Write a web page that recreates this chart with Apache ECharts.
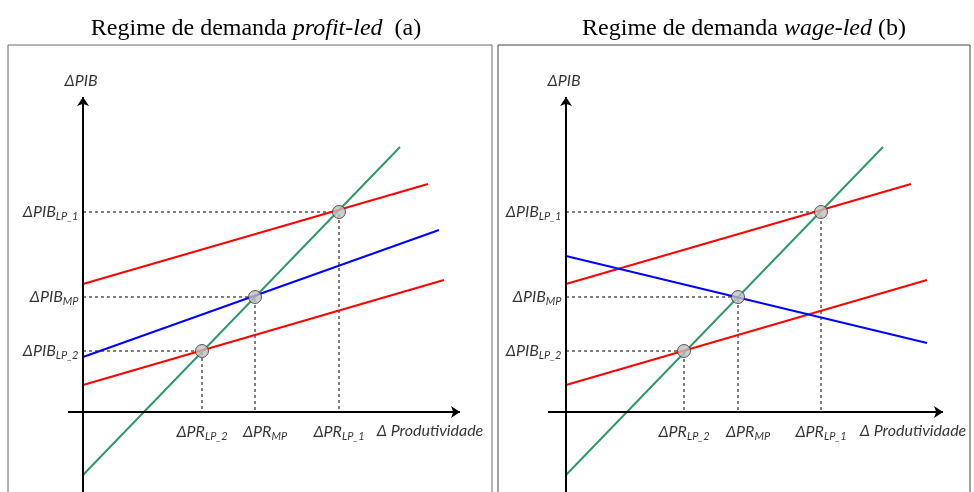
<!DOCTYPE html>
<html><head><meta charset="utf-8">
<script src="https://cdn.jsdelivr.net/npm/echarts@6/dist/echarts.min.js"></script>
<style>html,body{margin:0;padding:0;background:#fff}#c{width:974px;height:492px}</style>
</head><body><div id="c"></div>
<script>
// ---- data (model units) ----
const panelTitles = ['profit-led', 'wage-led'];
const panelLetters = ['(a)', '(b)'];
const prLine = [[0, -6.3], [31.7, 26.5]];
const bp1Line = [[0, 12.8], [34.5, 22.8]];
const bp2Line = [[0, 2.7], [36.1, 13.2]];
const drProfitLed = [[0, 5.5], [35.6, 18.2]];
const drWageLed = [[0, 15.6], [36.1, 6.9]];
const eqProfitLed = [[11.9, 6.1], [17.2, 11.5], [25.6, 20.0]];
const eqWageLed = [[11.8, 6.1], [17.2, 11.5], [25.5, 20.0]];
const eqSubscripts = ['LP_2', 'MP', 'LP_1'];
const xAxisExtentA = [-1.5, 37.7];
const xAxisExtentB = [-1.8, 37.7];
const yAxisExtent = [-8.5, 31.5];
const yAxisName = 'ΔPIB';
const xAxisName = 'Δ Produtividade';

const FONT = 'Lato';
const chart = echarts.init(document.getElementById('c'), null, {renderer: 'canvas'});

const rich = {
  m: {fontFamily: FONT, fontStyle: 'italic', fontSize: 16, color: '#000', lineHeight: 20},
  s: {fontFamily: FONT, fontStyle: 'italic', fontSize: 11, color: '#000', lineHeight: 10, verticalAlign: 'bottom'},
  n: {fontFamily: FONT, fontSize: 16, color: '#000', lineHeight: 20},
  ns: {fontFamily: FONT, fontSize: 11, color: '#000', lineHeight: 10, verticalAlign: 'bottom'}
};

function panel(i, drLine, eqPts, xExt) {
  const g = {xAxisIndex: i, yAxisIndex: i, animation: false, silent: true};
  const s = [];
  // axes with arrows
  s.push(Object.assign({
    type: 'line', data: [], z: 5,
    markLine: {
      silent: true, symbol: ['none', 'arrow'], symbolSize: 9, precision: 4,
      lineStyle: {color: '#000', width: 2, type: 'solid'},
      label: {show: false}, emphasis: {disabled: true},
      data: [
        [{coord: [xExt[0], 0]}, {coord: [xExt[1], 0]}],
        [{coord: [0, yAxisExtent[0]]}, {coord: [0, yAxisExtent[1]]}]
      ]
    }
  }, g));
  // dashed guides
  eqPts.forEach(p => {
    s.push(Object.assign({
      type: 'line', symbol: 'none', z: 2,
      lineStyle: {color: '#000', width: 1, type: [3, 3]},
      data: [[0, p[1]], [p[0], p[1]], [p[0], 0]]
    }, g));
  });
  function curve(pts, color, name, sub, dist) {
    return Object.assign({
      type: 'line', symbol: 'none', z: 3,
      lineStyle: {color: color, width: 2},
      data: [pts[0], {value: pts[1], label: {
        show: true, position: 'right', distance: dist,
        formatter: sub ? `{n|${name}}{ns|${sub}}` : `{n|${name}}`, rich: rich
      }}]
    }, g);
  }
  s.push(curve(prLine, '#2e9a68', 'PR', '', 2));
  s[s.length - 1].data[1].label.offset = [0, -9];
  s.push(curve(bp1Line, '#ff0000', 'BP', '1', 4));
  s.push(curve(bp2Line, '#ff0000', 'BP', '2', 15));
  s.push(curve(drLine, '#0000ff', 'DR', '', 9));
  // equilibrium points
  s.push(Object.assign({
    type: 'scatter', z: 6, symbol: 'circle', symbolSize: 13,
    itemStyle: {color: '#c0c0c0', borderColor: '#333', borderWidth: 1},
    data: eqPts
  }, g));
  // y labels
  s.push(Object.assign({
    type: 'scatter', z: 6, symbolSize: 1, itemStyle: {color: 'rgba(0,0,0,0)'},
    label: {show: true, position: 'left', distance: 4, rich: rich,
      formatter: p => `{m|ΔPIB}{s|${eqSubscripts[p.dataIndex]}}`},
    data: eqPts.map(p => [0, p[1]])
  }, g));
  // x labels
  s.push(Object.assign({
    type: 'scatter', z: 6, symbolSize: 1, itemStyle: {color: 'rgba(0,0,0,0)'},
    label: {show: true, position: 'bottom', distance: 9, rich: rich,
      formatter: p => `{m|ΔPR}{s|${eqSubscripts[p.dataIndex]}}`},
    data: eqPts.map((p, k) => ({value: [p[0], 0], label: k === 1 ? {offset: [10, 0]} : {}}))
  }, g));
  // axis names
  s.push(Object.assign({
    type: 'scatter', z: 6, symbolSize: 1, itemStyle: {color: 'rgba(0,0,0,0)'},
    data: [
      {value: [0, yAxisExtent[1]], label: {show: true, position: 'top', distance: 6, offset: [-2, 0],
        formatter: `{m|${yAxisName}}`, rich: rich}},
      {value: [xExt[1], 0], label: {show: true, position: 'bottom', distance: 8, offset: [-30, 0],
        formatter: `{m|${xAxisName}}`, rich: rich}}
    ]
  }, g));
  return s;
}

const titleRich = {
  n: {fontFamily: 'Liberation Serif', fontSize: 24, fontWeight: 'normal', color: '#000'},
  i: {fontFamily: 'Liberation Serif', fontSize: 24, fontWeight: 'normal', fontStyle: 'italic', color: '#000'}
};

const option = {
  backgroundColor: '#fff',
  animation: false,
  title: [
    {text: `{n|Regime de demanda }{i|${panelTitles[0]}}{n|  ${panelLetters[0]}}`, left: 251, top: 12, textAlign: 'center',
      textStyle: {fontWeight: 'normal', rich: titleRich}},
    {text: `{n|Regime de demanda }{i|${panelTitles[1]}}{n| ${panelLetters[1]}}`, left: 739, top: 12, textAlign: 'center',
      textStyle: {fontWeight: 'normal', rich: titleRich}}
  ],
  grid: [
    {left: 8, top: 45, width: 484, height: 455, show: true, borderColor: '#6a6a6a', borderWidth: 1,
      containLabel: false, outerBoundsMode: 'none'},
    {left: 498, top: 45, width: 472, height: 455, show: true, borderColor: '#444', borderWidth: 1,
      containLabel: false, outerBoundsMode: 'none'}
  ],
  xAxis: [
    {type: 'value', gridIndex: 0, min: -7.5, max: 40.9, show: false},
    {type: 'value', gridIndex: 1, min: -6.8, max: 40.4, show: false}
  ],
  yAxis: [
    {type: 'value', gridIndex: 0, min: -8.8, max: 36.7, show: false},
    {type: 'value', gridIndex: 1, min: -8.8, max: 36.7, show: false}
  ],
  series: [].concat(
    panel(0, drProfitLed, eqProfitLed, xAxisExtentA),
    panel(1, drWageLed, eqWageLed, xAxisExtentB)
  )
};
chart.setOption(option);
</script>
</body></html>
